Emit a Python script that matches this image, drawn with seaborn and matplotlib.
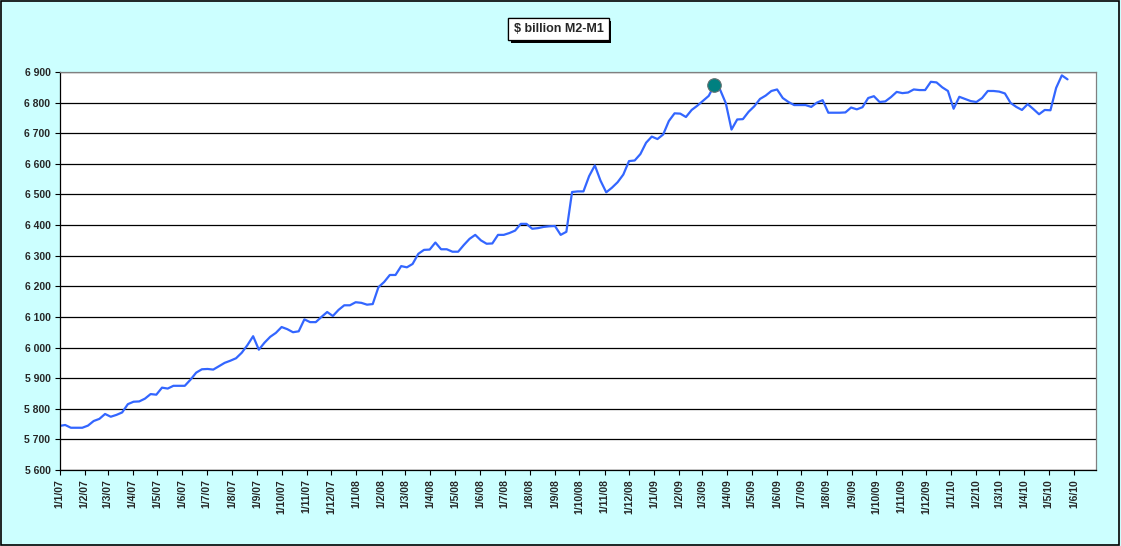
import numpy as np
import pandas as pd
import matplotlib.pyplot as plt
import matplotlib.dates as mdates
import matplotlib.patheffects as pe
from matplotlib.patches import Rectangle
from matplotlib.ticker import FuncFormatter, MultipleLocator
import seaborn as sns

# weekly M2 minus M1, $ billion, starting Monday 1 Jan 2007
start_date = '2007-01-01'
m2_minus_m1 = [
    5744, 5747, 5738, 5738, 5738, 5745, 5760, 5767, 5783, 5774,
    5780, 5788, 5815, 5823, 5824, 5833, 5848, 5846, 5869, 5866,
    5875, 5875, 5875, 5895, 5918, 5929, 5930, 5928, 5939, 5950,
    5957, 5965, 5983, 6008, 6037, 5993, 6016, 6035, 6048, 6067,
    6060, 6050, 6053, 6092, 6083, 6083, 6100, 6116, 6103, 6123,
    6138, 6138, 6148, 6146, 6140, 6142, 6197, 6214, 6237, 6237,
    6266, 6262, 6273, 6306, 6319, 6320, 6343, 6321, 6321, 6313,
    6313, 6335, 6355, 6368, 6350, 6339, 6340, 6368, 6368, 6374,
    6382, 6404, 6404, 6388, 6390, 6394, 6396, 6397, 6368, 6378,
    6508, 6510, 6510, 6560, 6595, 6545, 6507, 6522, 6540, 6565,
    6609, 6611, 6632, 6669, 6689, 6681, 6696, 6740, 6765, 6764,
    6753, 6776, 6790, 6806, 6822, 6858, 6842, 6798, 6712, 6745,
    6746, 6770, 6788, 6812, 6823, 6838, 6843, 6815, 6802, 6792,
    6792, 6792, 6786, 6800, 6808, 6767, 6767, 6767, 6768, 6784,
    6778, 6785, 6815, 6821, 6802, 6804, 6818, 6835, 6831, 6833,
    6843, 6841, 6841, 6868, 6866, 6850, 6838, 6780, 6819, 6812,
    6805, 6802, 6815, 6838, 6838, 6836, 6830, 6799, 6786, 6776,
    6795, 6779, 6762, 6776, 6775, 6848, 6889, 6876,
]
highlight_week = 115
title_text = '$ billion M2-M1'

weeks = pd.date_range(start_date, periods=len(m2_minus_m1), freq='7D')
df = pd.DataFrame({'week': weeks, 'value': m2_minus_m1})
peak = df.iloc[[highlight_week]]

sns.set_theme(style='white')
plt.rcParams['font.family'] = ['Liberation Sans', 'DejaVu Sans']

bg = '#CCFFFF'
fig = plt.figure(figsize=(11.21, 5.46), dpi=100, facecolor=bg)
ax = fig.add_axes([59.5 / 1121, 1 - 470 / 546, (1096 - 59.5) / 1121, (470 - 72) / 546])
ax.set_facecolor('white')

sns.lineplot(data=df, x='week', y='value', ax=ax, color='#3366FF', linewidth=1.6)
sns.scatterplot(data=peak, x='week', y='value', ax=ax, color='#008080', s=95,
                edgecolor='#607070', linewidth=0.8, zorder=5)

ax.set_ylim(5600, 6900)
ax.yaxis.set_major_locator(MultipleLocator(100))
ax.yaxis.set_major_formatter(FuncFormatter(lambda v, p: f'{int(v):,}'.replace(',', ' ')))
ax.grid(axis='y', color='black', linewidth=0.9)
ax.grid(axis='x', visible=False)

x0 = pd.Timestamp(start_date)
ax.set_xlim(x0, x0 + pd.Timedelta(days=1274))
ax.xaxis.set_major_locator(mdates.MonthLocator())
ax.xaxis.set_major_formatter(FuncFormatter(
    lambda v, p: (lambda d: f'{d.day}/{d.month}/{d:%y}')(mdates.num2date(v))))

ax.set_xlabel('')
ax.set_ylabel('')
ax.tick_params(axis='both', which='major', direction='out', length=3.5, width=0.8,
               color='black', labelsize=7.5, pad=3, bottom=True, left=True)
plt.setp(ax.get_xticklabels(), rotation=90, fontweight='bold')
plt.setp(ax.get_yticklabels(), fontweight='bold')

for side in ['left', 'bottom']:
    ax.spines[side].set_color('black')
    ax.spines[side].set_linewidth(0.9)
for side in ['top', 'right']:
    ax.spines[side].set_color('#808080')
    ax.spines[side].set_linewidth(0.9)

t = fig.text(558.5 / 1121, 1 - 29 / 546, title_text, ha='center', va='center',
             fontsize=9, fontweight='bold',
             bbox=dict(boxstyle='square,pad=0.42', fc='white', ec='black', lw=0.9))
t.get_bbox_patch().set_path_effects([
    pe.withSimplePatchShadow(offset=(2, -2), shadow_rgbFace='black', alpha=1.0),
    pe.Normal()])

fig.patches.append(Rectangle((0.0005, 0.001), 0.998, 0.997, transform=fig.transFigure,
                             fill=False, edgecolor='black', linewidth=1.2))

fig.savefig('out.png', dpi=100, facecolor=bg)
